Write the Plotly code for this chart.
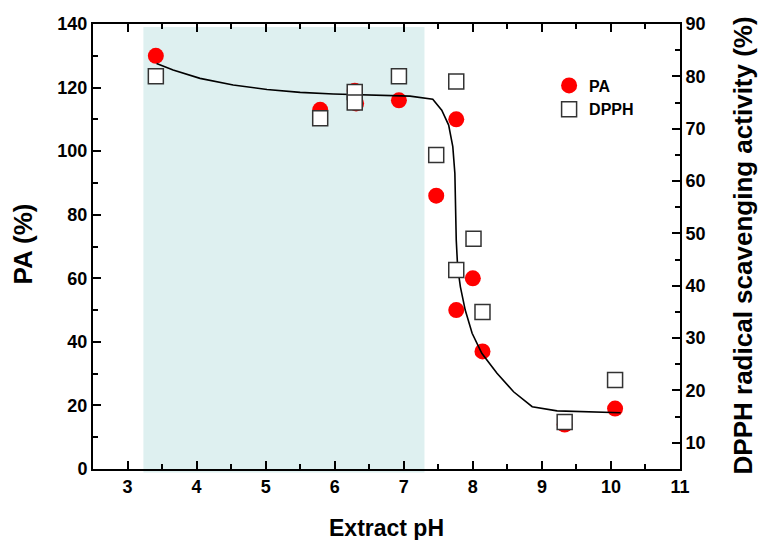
import plotly.graph_objects as go

# Data
pa_x = [3.41, 5.79, 6.29, 6.31, 6.93, 7.47, 7.76, 7.76, 8.00, 8.14, 9.33, 10.06]
pa_y = [130, 113, 119, 115, 116, 86, 110, 50, 60, 37, 14, 19]

dpph_x = [3.41, 5.79, 6.29, 6.29, 6.93, 7.47, 7.76, 7.76, 8.01, 8.14, 9.33, 10.06]
dpph_y = [80, 72, 77, 75, 80, 65, 79, 43, 49, 35, 14, 22]

fit_x = [3.42, 3.66, 4.05, 4.53, 5.02, 5.50, 5.98, 6.66, 7.09, 7.42, 7.55, 7.65, 7.71, 7.74,
         7.75, 7.76, 7.78, 7.82, 7.89, 7.99, 8.13, 8.35, 8.59, 8.86, 9.22, 10.14]
fit_y = [127.6, 125.5, 122.9, 120.8, 119.4, 118.5, 118.0, 117.6, 117.3, 116.3, 112.9, 108.2,
         101.4, 93.0, 82.5, 72.0, 63.6, 57.3, 50.0, 42.7, 36.4, 30.1, 24.3, 19.6, 18.3, 17.7]

shade_range = [3.23, 7.30]
x_ticks = [3, 4, 5, 6, 7, 8, 9, 10, 11]

FONT = "Arial, Liberation Sans, sans-serif"

fig = go.Figure()
fig.add_trace(go.Scatter(x=pa_x, y=pa_y, mode="markers", name="PA",
                         marker=dict(symbol="circle", size=16, color="#ff0000",
                                     line=dict(width=0))))
fig.add_trace(go.Scatter(x=dpph_x, y=dpph_y, mode="markers", name="DPPH", yaxis="y2",
                         marker=dict(symbol="square", size=15, color="white",
                                     line=dict(width=1.5, color="#333333"))))
fig.add_trace(go.Scatter(x=fit_x, y=fit_y, mode="lines", showlegend=False,
                         line=dict(color="black", width=1.6)))

fig.add_shape(type="rect", xref="x", yref="paper", x0=shade_range[0], x1=shade_range[1],
              y0=-0.008, y1=0.993, fillcolor="rgb(222,240,240)", line=dict(width=0),
              layer="below")

axis_common = dict(showgrid=False, zeroline=False, linecolor="black", linewidth=2,
                   ticks="inside", tickwidth=2, tickcolor="black",
                   tickfont=dict(family=FONT, size=18, color="black", weight="bold"))

fig.update_layout(
    width=758, height=540,
    margin=dict(l=93, r=78, t=24, b=71),
    paper_bgcolor="white", plot_bgcolor="white",
    font=dict(family=FONT, color="black"),
    xaxis=dict(range=[2.5, 11], tickvals=x_ticks, ticklen=8, mirror="ticks",
               minor=dict(dtick=0.5, ticks="inside", ticklen=5, tickwidth=2, tickcolor="black"),
               **axis_common),
    yaxis=dict(range=[0, 140], dtick=20, ticklen=8,
               minor=dict(dtick=10, ticks="inside", ticklen=5, tickwidth=2, tickcolor="black"),
               **axis_common),
    yaxis2=dict(range=[5, 90], tickvals=[10, 20, 30, 40, 50, 60, 70, 80, 90], ticklen=8,
                overlaying="y", side="right",
                minor=dict(tickvals=[15, 25, 35, 45, 55, 65, 75, 85], ticks="inside",
                           ticklen=5, tickwidth=2, tickcolor="black"),
                **axis_common),
    legend=dict(x=0.777, y=0.9, xanchor="left", yanchor="top",
                bgcolor="rgba(0,0,0,0)", borderwidth=0, tracegroupgap=0,
                font=dict(family=FONT, size=16, color="black", weight="bold")),
    showlegend=True,
)

fig.add_annotation(text="PA (%)", xref="paper", yref="paper", x=-0.119, y=0.505,
                   textangle=-90, showarrow=False, xanchor="center", yanchor="middle",
                   font=dict(family=FONT, size=26, color="black", weight="bold"))
fig.add_annotation(text="Extract pH", xref="paper", yref="paper", x=0.5, y=-0.133,
                   showarrow=False, xanchor="center", yanchor="middle",
                   font=dict(family=FONT, size=23, color="black", weight="bold"))
fig.add_annotation(text="DPPH radical scavenging activity (%)", xref="paper", yref="paper",
                   x=1.107, y=0.502, textangle=-90, showarrow=False,
                   xanchor="center", yanchor="middle",
                   font=dict(family=FONT, size=26, color="black", weight="bold"))

fig.write_html("out.html")
